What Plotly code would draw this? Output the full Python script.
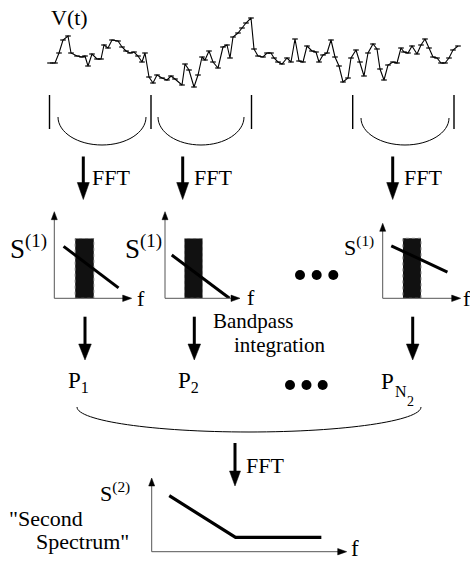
import plotly.graph_objects as go

W, H = 470, 562

# ---- data -------------------------------------------------------------
# sampled noise trace V(t) (arbitrary units)
t_vals = [0, 5, 9, 13, 18, 21, 27, 32, 35, 38, 42, 47, 51, 54, 58, 62, 68, 72, 76, 80,
          84, 88, 92, 95, 99, 103, 107, 112, 117, 121, 125, 132, 135, 139, 144, 148, 152, 155, 159, 163,
          168, 173, 177, 180, 183, 188, 192, 196, 201, 204, 208, 213, 217, 221, 224, 228, 232, 237, 241, 245,
          249, 253, 257, 262, 266, 269, 273, 277, 281, 285, 289, 293, 298, 301, 306, 310, 314, 318, 323, 327,
          330, 334, 338, 343, 347, 351, 354, 358, 362, 367, 371, 375, 379, 383, 387, 391, 395, 399, 403, 408]
v_vals = [27, 27, 37, 50, 54, 37, 34, 33, 34, 24, 36, 31, 31, 45, 42, 50, 49, 43, 39, 37,
          38, 34, 28, 37, 13, 7, 15, 12, 10, 14, 11, 5, 26, 20, 3, 15, 33, 30, 39, 28,
          22, 43, 45, 32, 53, 57, 62, 67, 72, 41, 34, 33, 37, 37, 32, 28, 26, 32, 28, 51,
          29, 28, 44, 39, 38, 28, 35, 37, 50, 33, 24, 8, 12, 32, 40, 28, 14, 37, 46, 41,
          21, 10, 25, 28, 27, 42, 38, 37, 44, 36, 45, 51, 42, 33, 32, 27, 27, 32, 40, 44]

# first spectra S(1)(f) of three segments (normalised f and S)
spec1_f = [[0.12, 0.83], [0.09, 0.86], [0.11, 0.83]]
spec1_s = [[0.60, 0.12], [0.50, 0.00], [0.70, 0.35]]
# integration band of each first spectrum
band_lo = [0.27, 0.26, 0.26]
band_hi = [0.51, 0.50, 0.49]
band_top = [0.69, 0.69, 0.80]

# second spectrum S(2)(f)
spec2_f = [0.09, 0.43, 0.87]
spec2_s = [0.76, 0.195, 0.195]

# ---- layout geometry (pixels, y downwards) ----------------------------
panels = [dict(x0=54.3, x1=131.7, y0=298.3, y1=211.7),
          dict(x0=165.0, x1=240.0, y0=298.3, y1=211.7),
          dict(x0=382.7, x1=460.7, y0=298.3, y1=223.3)]
panel2 = dict(x0=151.7, x1=346.7, y0=551.7, y1=478.0)

FONT = "Liberation Serif"
fig = go.Figure()
shapes, annos = [], []


def line(x0, y0, x1, y1, w=1.0, color="black"):
    shapes.append(dict(type="line", xref="x", yref="y", x0=x0, y0=y0, x1=x1, y1=y1,
                       line=dict(color=color, width=w)))


def tri(points, color="black"):
    p = "M " + " L ".join(f"{x},{y}" for x, y in points) + " Z"
    shapes.append(dict(type="path", xref="x", yref="y", path=p, fillcolor=color,
                       line=dict(color=color, width=0.5)))


def arrow_down(x, y0, y1, shaft=3.0, hw=6.0, hl=16.0):
    line(x, y0, x, y1 - hl + 1, w=shaft)
    tri([(x - hw, y1 - hl), (x + hw, y1 - hl), (x, y1)])


def axis_arrows(x0, y0, x1, y1, color="#555"):
    # vertical axis pointing up, horizontal axis pointing right
    line(x0, y0, x0, y1 + 6, w=1, color=color)
    tri([(x0 - 3, y1 + 8), (x0 + 3, y1 + 8), (x0, y1)])
    line(x0, y0, x1 - 6, y0, w=1, color=color)
    tri([(x1 - 9, y0 - 3.2), (x1 - 9, y0 + 3.2), (x1, y0)])


def half_ellipse(cx, ytop, rx, ry, w=1.0):
    k = 0.5523
    p = (f"M {cx - rx},{ytop} C {cx - rx},{ytop + k * ry} {cx - k * rx},{ytop + ry} {cx},{ytop + ry} "
         f"C {cx + k * rx},{ytop + ry} {cx + rx},{ytop + k * ry} {cx + rx},{ytop}")
    shapes.append(dict(type="path", xref="x", yref="y", path=p, line=dict(color="black", width=w)))


def text(x, y, s, size=22, xanchor="left", yanchor="middle"):
    annos.append(dict(xref="x", yref="y", x=x, y=y, text=s, showarrow=False,
                      xanchor=xanchor, yanchor=yanchor,
                      font=dict(family=FONT, size=size, color="black")))


def dot(x, y, r=5):
    shapes.append(dict(type="circle", xref="x", yref="y", x0=x - r, x1=x + r, y0=y - r, y1=y + r,
                       fillcolor="black", line=dict(color="black", width=0)))


# ---- V(t) trace ---------------------------------------------------------
fig.add_trace(go.Scatter(x=t_vals, y=v_vals, xaxis="x2", yaxis="y2", mode="lines+markers",
                         line=dict(color="black", width=1.1),
                         marker=dict(symbol="line-ew-open", size=4, color="black",
                                     line=dict(width=1.2, color="black")),
                         hoverinfo="skip", cliponaxis=False))
text(49, 17, "V(t)", size=22)

# segment brackets and window cups
for xb in [49.5, 151, 251.5, 352.7, 454]:
    line(xb, 95, xb, 129, w=1.4)
half_ellipse(102, 117, 44, 28)
half_ellipse(201, 117, 43, 28)
half_ellipse(405, 118, 44, 27)

# FFT arrows to the first spectra
for xa, xt in [(83.3, 90), (182.7, 192), (392.7, 402)]:
    arrow_down(xa, 156.5, 199.5, shaft=3, hw=6, hl=17)
    text(xt, 177, "FFT", size=22)

# first spectra panels
axis_names = []
for i, pn in enumerate(panels):
    xa, ya = f"x{i + 3}", f"y{i + 3}"
    axis_names.append((xa, ya, pn))
    shapes.append(dict(type="rect", xref=xa, yref=ya, x0=band_lo[i], x1=band_hi[i],
                       y0=0, y1=band_top[i], fillcolor="#111", layer="below",
                       line=dict(color="#777", width=1, dash="dot")))
    fig.add_trace(go.Scatter(x=spec1_f[i], y=spec1_s[i], xaxis=xa, yaxis=ya, mode="lines",
                             line=dict(color="black", width=3), hoverinfo="skip", cliponaxis=False))
    axis_arrows(pn["x0"], pn["y0"], pn["x1"], pn["y1"])

text(8, 247, "S<sup>(1)</sup>", size=27)
text(123, 247, "S<sup>(1)</sup>", size=27)
text(342, 246, "S<sup>(1)</sup>", size=22)
text(135, 298, "f", size=22)
text(245, 297, "f", size=22)
text(461, 298, "f", size=22)

dot(300, 275)
dot(316.7, 275)
dot(333.3, 275)

# bandpass integration arrows
for xa in [85, 194.3, 412.7]:
    arrow_down(xa, 316.7, 360, shaft=3, hw=6.3, hl=16)
text(211, 321, "Bandpass", size=21)
text(232, 345, "integration", size=21)

# integrated powers
text(66, 382, "P<sub>1</sub>", size=23)
text(176, 382, "P<sub>2</sub>", size=23)
text(379, 381, "P", size=23)
text(393, 391, "N", size=16)
text(405, 401, "2", size=14)
dot(290, 385)
dot(306.5, 385)
dot(322.7, 385)

# collect the powers and transform again
half_ellipse(249, 407, 172, 25)
arrow_down(235, 443, 486, shaft=3, hw=5.5, hl=15)
text(244, 465, "FFT", size=22)

# second spectrum
fig.add_trace(go.Scatter(x=spec2_f, y=spec2_s, xaxis="x6", yaxis="y6", mode="lines",
                         line=dict(color="black", width=3.2), hoverinfo="skip", cliponaxis=False))
axis_arrows(panel2["x0"], panel2["y0"], panel2["x1"], panel2["y1"], color="#555")
text(98, 492, "S<sup>(2)</sup>", size=22)
text(349, 548, "f", size=23)
text(7, 518, "\"Second", size=22)
text(34, 541, "Spectrum\"", size=22)

# ---- axes -------------------------------------------------------------
hidden = dict(visible=False, showgrid=False, zeroline=False, fixedrange=True)
layout_axes = dict(
    xaxis=dict(hidden, domain=[0, 1], range=[0, W]),
    yaxis=dict(hidden, domain=[0, 1], range=[H, 0]),
    xaxis2=dict(hidden, domain=[0, 1], range=[-50, W - 50], anchor="y2"),
    yaxis2=dict(hidden, domain=[0, 1], range=[90 - H, 90], anchor="x2"),
)
for i, (xa, ya, pn) in enumerate(axis_names):
    n = i + 3
    layout_axes[f"xaxis{n}"] = dict(hidden, domain=[pn["x0"] / W, pn["x1"] / W], range=[0, 1],
                                    anchor=f"y{n}")
    layout_axes[f"yaxis{n}"] = dict(hidden, domain=[1 - pn["y0"] / H, 1 - pn["y1"] / H], range=[0, 1],
                                    anchor=f"x{n}")
layout_axes["xaxis6"] = dict(hidden, domain=[panel2["x0"] / W, panel2["x1"] / W], range=[0, 1], anchor="y6")
layout_axes["yaxis6"] = dict(hidden, domain=[1 - panel2["y0"] / H, 1 - panel2["y1"] / H], range=[0, 1],
                             anchor="x6")

fig.update_layout(
    width=W, height=H, autosize=False,
    margin=dict(l=0, r=0, t=0, b=0),
    paper_bgcolor="white", plot_bgcolor="white",
    showlegend=False,
    shapes=shapes, annotations=annos,
    **layout_axes,
)

fig.write_html("out.html", config=dict(displayModeBar=False, staticPlot=True))
